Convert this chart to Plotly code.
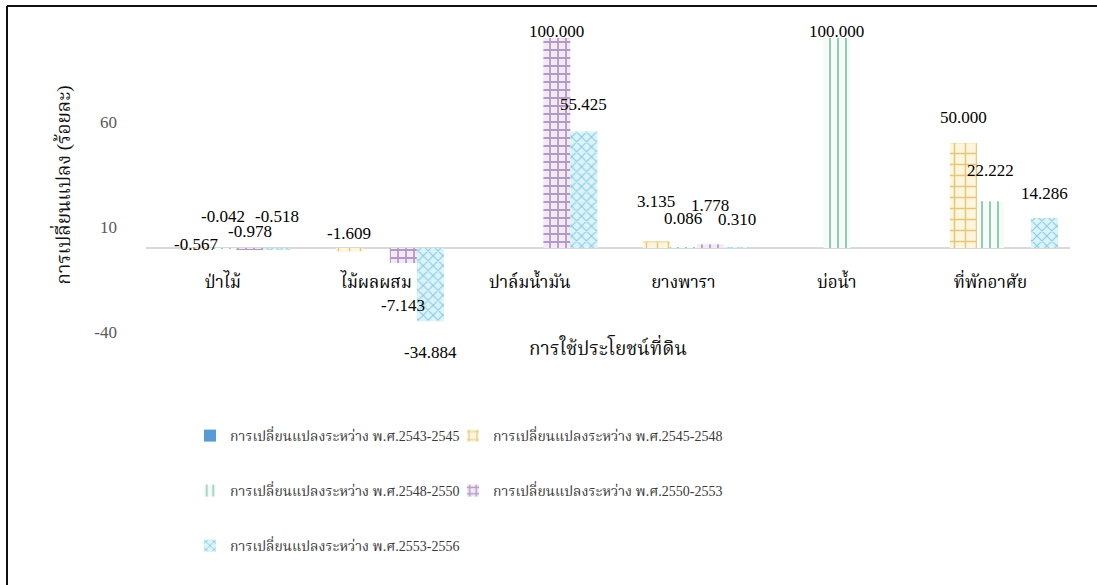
import plotly.graph_objects as go

categories = ["ป่าไม้", "ไม้ผลผสม", "ปาล์มน้ำมัน", "ยางพารา", "บ่อน้ำ", "ที่พักอาศัย"]
series_names = [
    "การเปลี่ยนแปลงระหว่าง พ.ศ.2543-2545",
    "การเปลี่ยนแปลงระหว่าง พ.ศ.2545-2548",
    "การเปลี่ยนแปลงระหว่าง พ.ศ.2548-2550",
    "การเปลี่ยนแปลงระหว่าง พ.ศ.2550-2553",
    "การเปลี่ยนแปลงระหว่าง พ.ศ.2553-2556",
]
s2543_2545 = [None, None, None, None, None, None]
s2545_2548 = [-0.567, -1.609, None, 3.135, None, 50.000]
s2548_2550 = [-0.042, None, None, 0.086, 100.000, 22.222]
s2550_2553 = [-0.978, -7.143, 100.000, 1.778, None, None]
s2553_2556 = [-0.518, -34.884, 55.425, 0.310, None, 14.286]
values = [s2543_2545, s2545_2548, s2548_2550, s2550_2553, s2553_2556]

y_ticks = [-40, 10, 60]
y_ticktext = ["-40", "10", "60"]
y_range = [-40, 100]

styles = [
    dict(color="#5B9BD5", pattern=None),
    dict(color="#FFF6DC", pattern=dict(shape="+", fgcolor="#C8961E", bgcolor="#FFF6DC", size=11, solidity=0.25)),
    dict(color="#FFFFFF", pattern=dict(shape="|", fgcolor="#2E9E6E", bgcolor="#F4FBF8", size=8, solidity=0.25)),
    dict(color="#F5E8F5", pattern=dict(shape="+", fgcolor="#6E4E96", bgcolor="#F5E8F5", size=8, solidity=0.4)),
    dict(color="#DDF3FA", pattern=dict(shape="x", fgcolor="#2FA6CC", bgcolor="#DDF3FA", size=7, solidity=0.3)),
]
legend_ids = ["legend", "legend2", "legend3", "legend4", "legend5"]

label_shift = {
    (1, 0): 4, (2, 0): 32, (3, 0): 17, (4, 0): 32,
    (1, 1): 15, (3, 1): -42, (4, 1): -31,
    (3, 2): 7, (4, 2): 27,
    (1, 3): 40, (2, 3): 29, (3, 3): 39, (4, 3): 28,
    (2, 4): 7,
    (1, 5): 26, (2, 5): 31, (4, 5): 25,
}

THAI = "Liberation Serif, Noto Serif Thai, Noto Sans Thai, serif"

fig = go.Figure()
for i, (name, vals, st, lg) in enumerate(zip(series_names, values, styles, legend_ids)):
    marker = dict(color=st["color"], line=dict(width=0))
    if st["pattern"]:
        marker["pattern"] = st["pattern"]
    fig.add_trace(go.Bar(x=categories, y=vals, name=name, marker=marker, legend=lg,
                         showlegend=True))

bargap = 0.12
w = (1 - bargap) / 5
annotations = []
for i, vals in enumerate(values):
    for j, v in enumerate(vals):
        if v is None:
            continue
        shift = label_shift.get((i, j), 10)
        anchor = v if (v > 0 or shift < 0) else 0
        annotations.append(dict(
            x=j + (i - 2) * w, y=anchor, xref="x", yref="y",
            text=f"{v:.3f}", showarrow=False, yanchor="middle", yshift=shift,
            font=dict(family="Liberation Serif", size=17, color="#000000"),
        ))

def px_x(px):
    return (px - 146) / 924

def px_y(py):
    return (332 - py) / 294

leg_pos = [(190, 436), (453, 436), (190, 491), (453, 491), (190, 546)]
legends = {}
for k, (lx, ly) in enumerate(leg_pos):
    key = "legend" if k == 0 else f"legend{k + 1}"
    legends[key] = dict(orientation="h", x=px_x(lx), y=px_y(ly), xanchor="left", yanchor="middle",
                        bgcolor="rgba(0,0,0,0)", font=dict(family=THAI, size=14, color="#3A3A3A"))

fig.update_layout(
    width=1097, height=585,
    margin=dict(l=146, r=27, t=38, b=253),
    paper_bgcolor="white", plot_bgcolor="white",
    barmode="group", bargap=bargap, bargroupgap=0,
    annotations=annotations,
    font=dict(family=THAI, size=17, color="#000000"),
    xaxis=dict(
        type="category", anchor="free", position=(0 - y_range[0]) / (y_range[1] - y_range[0]),
        showline=False, ticks="", showgrid=False, ticklabelstandoff=22,
        tickfont=dict(family=THAI, size=17, color="#000000"),
        title=dict(text="การใช้ประโยชน์ที่ดิน", font=dict(family=THAI, size=19, color="#111111"), standoff=50),
    ),
    yaxis=dict(
        range=y_range, tickvals=y_ticks, ticktext=y_ticktext, showgrid=False, showline=False, ticks="",
        zeroline=True, zerolinecolor="#D9D9D9", zerolinewidth=2,
        ticklabelstandoff=28,
        tickfont=dict(family="Liberation Serif", size=17, color="#595959"),
        title=dict(text="การเปลี่ยนแปลง (ร้อยละ)", font=dict(family=THAI, size=19, color="#111111"), standoff=18),
    ),
    shapes=[
        dict(type="line", xref="paper", yref="paper", x0=px_x(7), x1=px_x(1097), y0=px_y(6), y1=px_y(6),
             line=dict(color="#111111", width=2)),
        dict(type="line", xref="paper", yref="paper", x0=px_x(7), x1=px_x(7), y0=px_y(6), y1=px_y(585),
             line=dict(color="#111111", width=2)),
    ],
    **legends,
)

fig.write_html("out.html")
